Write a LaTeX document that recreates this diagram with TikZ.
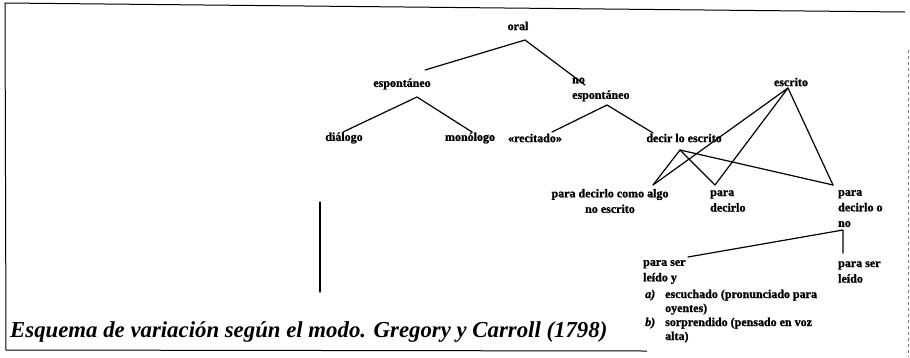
\documentclass[tikz,border=0pt]{standalone}
\usepackage{fontspec}
\setmainfont{Liberation Serif}
\newfontfamily\lblfont{Liberation Serif}[FakeBold=1.2]
\begin{document}
\begin{tikzpicture}[x=1pt,y=-1pt,
  lbl/.style={inner sep=0pt, font=\lblfont\bfseries\fontsize{12}{15.5}\selectfont},
  edge/.style={line width=1.2pt, line join=round, line cap=round},
  frame/.style={line width=1pt},
  faint/.style={gray, dashed, line width=0.6pt}]
\useasboundingbox (0,0) rectangle (910,357);

% frame
\coordinate (f1) at (5,3);
\coordinate (f2) at (905,12);
\coordinate (f3) at (6,350);
\coordinate (f4) at (647,351);
\coordinate (r1) at (908,50);
\coordinate (r2) at (908,357);
\draw[frame] (f2) -- (f1) -- (f3) -- (f4);
\draw[faint] (r1) -- (r2);

% labels
\node[lbl] (oral) at (518,26) {oral};
\node[lbl] (esp) at (402,84) {espontáneo};
\node[lbl, align=left, anchor=west] (noesp) at (572,89.5) {no\\espontáneo};
\node[lbl] (dia) at (344,138) {diálogo};
\node[lbl] (mon) at (470,138) {monólogo};
\node[lbl] (rec) at (535,138) {«recitado»};
\node[lbl] (dec) at (684,138) {decir lo escrito};
\node[lbl] (esc) at (791,82) {escrito};
\node[lbl, align=center] (como) at (610,201) {para decirlo como algo\\no escrito};
\node[lbl, align=left, anchor=west] (pd) at (710,201) {para\\decirlo};
\node[lbl, align=left, anchor=west] (pdo) at (838,208.5) {para\\decirlo o\\no};
\node[lbl, align=left, anchor=west] (psly) at (643,272) {para ser\\leído y};
\node[lbl, align=left, anchor=west] (psl) at (838,272) {para ser\\leído};
\node[lbl, anchor=north west, font=\lblfont\bfseries\fontsize{12}{14}\selectfont] (list) at (645,288)
  {\begin{tabular}{@{}l@{\hspace{10pt}}l@{}}
   \textit{a)} & escuchado (pronunciado para\\
               & oyentes)\\
   \textit{b)} & sorprendido (pensado en voz\\
               & alta)
   \end{tabular}};

% junctions
\coordinate (oralB) at (525,40);
\coordinate (espT) at (425,70);
\coordinate (noT) at (585,85);
\coordinate (espB) at (417,97);
\coordinate (diaT) at (343,132);
\coordinate (monT) at (472,132);
\coordinate (noB) at (607,105);
\coordinate (recT) at (552,132);
\coordinate (decT) at (653,133);
\coordinate (decB) at (680,150);
\coordinate (escB) at (788,88);
\coordinate (comoT) at (653,185);
\coordinate (pdT) at (715,185);
\coordinate (pdoT) at (833,185);
\coordinate (pdoB) at (843,230);
\coordinate (pslyT) at (688,257);
\coordinate (pslT) at (843,253);
\coordinate (va) at (320,202);
\coordinate (vb) at (320,292);

% connectors
\draw[edge] (espT) -- (oralB) -- (noT);
\draw[edge] (diaT) -- (espB) -- (monT);
\draw[edge] (recT) -- (noB) -- (decT);
\draw[edge] (comoT) -- (decB) -- (pdT);
\draw[edge] (decB) -- (pdoT);
\draw[edge] (comoT) -- (escB) -- (pdT);
\draw[edge] (escB) -- (pdoT);
\draw[edge] (pslyT) -- (pdoB) -- (pslT);
\draw[edge] (va) -- (vb);

% caption
\node[inner sep=0pt, anchor=base west] (cap) at (10,337)
  {\resizebox{597pt}{!}{\bfseries\itshape Esquema de variación según el modo. Gregory y Carroll (1798)}};
\end{tikzpicture}
\end{document}
